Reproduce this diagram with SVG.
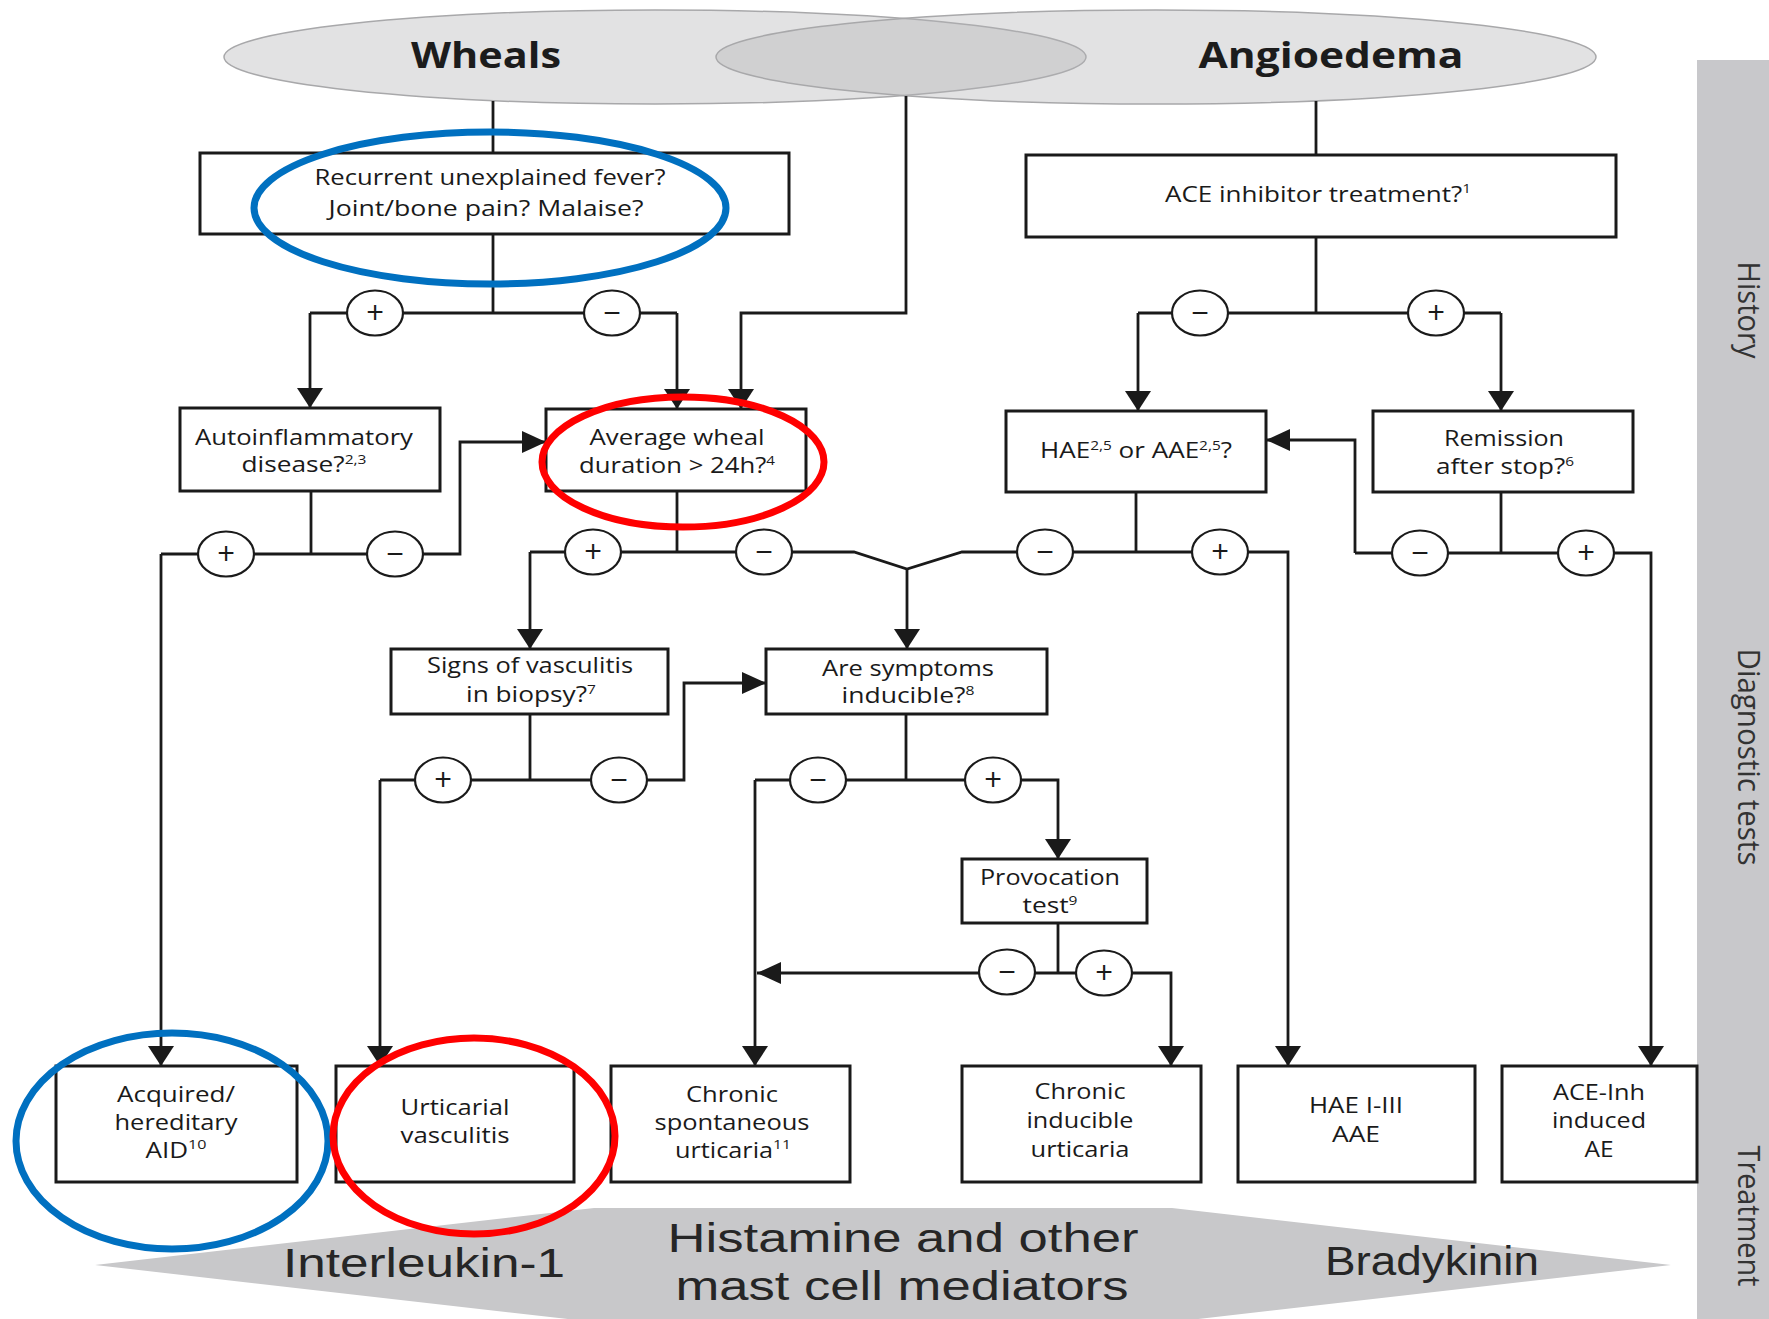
<svg xmlns="http://www.w3.org/2000/svg" width="1769" height="1319" viewBox="0 0 1769 1319">
<defs>
<style>
.box{fill:#fff;stroke:#1a1a1a;stroke-width:3}
.ln{fill:none;stroke:#1a1a1a;stroke-width:2.8}
.arV{marker-end:url(#ahV)}
.arH{marker-end:url(#ahH)}
.sign{fill:#fff;stroke:#1a1a1a;stroke-width:2.2}
.st{font-family:"Open Sans","DejaVu Sans",sans-serif;font-size:31px;fill:#1a1a1a;text-anchor:middle}
.bt{font-family:"Open Sans","Liberation Sans",sans-serif;font-size:22px;fill:#1a1a1a;text-anchor:middle}
.bb{font-family:"Open Sans","Liberation Sans",sans-serif;font-size:21px;fill:#1a1a1a;text-anchor:middle}
.title{font-family:"Open Sans","Liberation Sans",sans-serif;font-weight:700;font-size:35px;fill:#1c1c1c;text-anchor:middle}
.big{font-family:"Liberation Sans",Arial,sans-serif;font-size:41px;fill:#262626;text-anchor:middle}
.band{font-family:"Open Sans","Liberation Sans",sans-serif;font-size:31px;fill:#333;text-anchor:middle}
.sup{font-size:13px}
.gell{fill:#b3b3b6;fill-opacity:0.38;stroke:#a8a8aa;stroke-width:1.5}
.blue{fill:none;stroke:#0070c0;stroke-width:7}
.red{fill:none;stroke:#ff0000;stroke-width:7}
</style>
<marker id="ahV" markerUnits="userSpaceOnUse" markerWidth="20" markerHeight="26" viewBox="0 0 20 26" refX="20" refY="13" orient="auto"><path d="M0,0 L20,13 L0,26 z" fill="#1a1a1a"/></marker>
<marker id="ahH" markerUnits="userSpaceOnUse" markerWidth="24" markerHeight="22" viewBox="0 0 24 22" refX="24" refY="11" orient="auto"><path d="M0,0 L24,11 L0,22 z" fill="#1a1a1a"/></marker>
</defs>
<rect width="1769" height="1319" fill="#fff"/>

<g id="band">
<rect x="1697" y="60" width="72" height="1259" fill="#c8c8cb"/>
<text class="band" transform="translate(1738,310) rotate(90)" textLength="97" lengthAdjust="spacingAndGlyphs">History</text>
<text class="band" transform="translate(1738,757) rotate(90)" textLength="217" lengthAdjust="spacingAndGlyphs">Diagnostic tests</text>
<text class="band" transform="translate(1738,1216) rotate(90)" textLength="141" lengthAdjust="spacingAndGlyphs">Treatment</text>
</g>

<g id="mediators">
<polygon points="95,1265 594,1208 1172,1208 1671,1265 1172,1322 594,1322" fill="#c8c8ca"/>
<text class="big" x="424" y="1277" textLength="282" lengthAdjust="spacingAndGlyphs">Interleukin-1</text>
<text class="big" x="903" y="1252" textLength="471" lengthAdjust="spacingAndGlyphs">Histamine and other</text>
<text class="big" x="902" y="1300" textLength="453" lengthAdjust="spacingAndGlyphs">mast cell mediators</text>
<text class="big" x="1432" y="1275" textLength="214" lengthAdjust="spacingAndGlyphs">Bradykinin</text>
</g>

<g id="n-wheals">
<ellipse class="gell" cx="655" cy="57" rx="431" ry="47"/>
<text class="title" x="486" y="68" textLength="150" lengthAdjust="spacingAndGlyphs">Wheals</text>
</g>
<g id="n-angioedema">
<ellipse class="gell" cx="1156" cy="57" rx="440" ry="47"/>
<text class="title" x="1331" y="68" textLength="265" lengthAdjust="spacingAndGlyphs">Angioedema</text>
</g>

<g id="connectors">
<path class="ln" d="M493,101 V153"/>
<path class="ln" d="M1316,101 V155"/>
<path class="ln" d="M493,234 V313"/>
<path class="ln" d="M310,313 H677"/>
<path class="ln arV" d="M310,313 V408"/>
<path class="ln arV" d="M677,313 V409"/>
<path class="ln arV" d="M906,96 V313 H741 V409"/>
<path class="ln" d="M1316,237 V313"/>
<path class="ln" d="M1138,313 H1501"/>
<path class="ln arV" d="M1138,313 V411"/>
<path class="ln arV" d="M1501,313 V411"/>

<path class="ln" d="M311,491 V554"/>
<path class="ln arH" d="M161,554 H460 V442 H546"/>
<path class="ln arV" d="M161,554 V1066"/>
<path class="ln" d="M677,491 V552"/>
<path class="ln arV" d="M530,552 H854 L907,569 L962,552 H1288 V1066"/>
<path class="ln arV" d="M530,552 V649"/>
<path class="ln arV" d="M907,569 V649"/>
<path class="ln" d="M1136,492 V552"/>
<path class="ln" d="M1501,492 V553"/>
<path class="ln arV" d="M1355,553 H1651 V1066"/>
<path class="ln arH" d="M1355,553 V440 H1266"/>

<path class="ln" d="M530,714 V780"/>
<path class="ln arH" d="M380,780 H684 V683 H766"/>
<path class="ln arV" d="M380,780 V1066"/>
<path class="ln" d="M906,714 V780"/>
<path class="ln arV" d="M755,780 H1058 V859"/>
<path class="ln arV" d="M755,780 V1066"/>
<path class="ln" d="M1058,923 V973"/>
<path class="ln arH" d="M1058,973 H757"/>
<path class="ln arV" d="M1058,973 H1171 V1066"/>

<g id="signs">
<ellipse class="sign" cx="375" cy="313" rx="28" ry="22.5"/><text class="st" x="375" y="324">+</text>
<ellipse class="sign" cx="612" cy="313" rx="28" ry="22.5"/><text class="st" x="612" y="324">−</text>
<ellipse class="sign" cx="1200" cy="313" rx="28" ry="22.5"/><text class="st" x="1200" y="324">−</text>
<ellipse class="sign" cx="1436" cy="313" rx="28" ry="22.5"/><text class="st" x="1436" y="324">+</text>
<ellipse class="sign" cx="226" cy="554" rx="28" ry="22.5"/><text class="st" x="226" y="565">+</text>
<ellipse class="sign" cx="395" cy="554" rx="28" ry="22.5"/><text class="st" x="395" y="565">−</text>
<ellipse class="sign" cx="593" cy="552" rx="28" ry="22.5"/><text class="st" x="593" y="563">+</text>
<ellipse class="sign" cx="764" cy="552" rx="28" ry="22.5"/><text class="st" x="764" y="563">−</text>
<ellipse class="sign" cx="1045" cy="552" rx="28" ry="22.5"/><text class="st" x="1045" y="563">−</text>
<ellipse class="sign" cx="1220" cy="552" rx="28" ry="22.5"/><text class="st" x="1220" y="563">+</text>
<ellipse class="sign" cx="1420" cy="553" rx="28" ry="22.5"/><text class="st" x="1420" y="564">−</text>
<ellipse class="sign" cx="1586" cy="553" rx="28" ry="22.5"/><text class="st" x="1586" y="564">+</text>
<ellipse class="sign" cx="443" cy="780" rx="28" ry="22.5"/><text class="st" x="443" y="791">+</text>
<ellipse class="sign" cx="619" cy="780" rx="28" ry="22.5"/><text class="st" x="619" y="791">−</text>
<ellipse class="sign" cx="818" cy="780" rx="28" ry="22.5"/><text class="st" x="818" y="791">−</text>
<ellipse class="sign" cx="993" cy="780" rx="28" ry="22.5"/><text class="st" x="993" y="791">+</text>
<ellipse class="sign" cx="1007" cy="972" rx="28" ry="22.5"/><text class="st" x="1007" y="983">−</text>
<ellipse class="sign" cx="1104" cy="973" rx="28" ry="22.5"/><text class="st" x="1104" y="984">+</text>
</g>
</g>

<g id="n-fever">
<rect class="box" x="200" y="153" width="589" height="81"/>
<text class="bt" x="490" y="185" textLength="351" lengthAdjust="spacingAndGlyphs">Recurrent unexplained fever?</text>
<text class="bt" x="486" y="216" textLength="315" lengthAdjust="spacingAndGlyphs">Joint/bone pain? Malaise?</text>
</g>
<g id="n-ace">
<rect class="box" x="1026" y="155" width="590" height="82"/>
<text class="bt" x="1318" y="202" textLength="306" lengthAdjust="spacingAndGlyphs">ACE inhibitor treatment?<tspan class="sup" dy="-9">1</tspan></text>
</g>
<g id="n-autoinflammatory">
<rect class="box" x="180" y="408" width="260" height="83"/>
<text class="bt" x="304" y="445" textLength="218" lengthAdjust="spacingAndGlyphs">Autoinflammatory</text>
<text class="bt" x="304" y="472" textLength="125" lengthAdjust="spacingAndGlyphs">disease?<tspan class="sup" dy="-8">2,3</tspan></text>
</g>
<g id="n-wheal-duration">
<rect class="box" x="546" y="409" width="260" height="82"/>
<text class="bt" x="677" y="445" textLength="175" lengthAdjust="spacingAndGlyphs">Average wheal</text>
<text class="bt" x="677" y="473" textLength="196" lengthAdjust="spacingAndGlyphs">duration &gt; 24h?<tspan class="sup" dy="-8">4</tspan></text>
</g>
<g id="n-hae-aae">
<rect class="box" x="1006" y="411" width="260" height="81"/>
<text class="bt" x="1136" y="458" textLength="192" lengthAdjust="spacingAndGlyphs">HAE<tspan class="sup" dy="-8">2,5</tspan><tspan dy="8"> or AAE</tspan><tspan class="sup" dy="-8">2,5</tspan><tspan dy="8">?</tspan></text>
</g>
<g id="n-remission">
<rect class="box" x="1373" y="411" width="260" height="81"/>
<text class="bt" x="1504" y="446" textLength="120" lengthAdjust="spacingAndGlyphs">Remission</text>
<text class="bt" x="1505" y="474" textLength="138" lengthAdjust="spacingAndGlyphs">after stop?<tspan class="sup" dy="-8">6</tspan></text>
</g>
<g id="n-vasculitis-biopsy">
<rect class="box" x="391" y="649" width="277" height="65"/>
<text class="bt" x="530" y="673" textLength="206" lengthAdjust="spacingAndGlyphs">Signs of vasculitis</text>
<text class="bt" x="531" y="702" textLength="130" lengthAdjust="spacingAndGlyphs">in biopsy?<tspan class="sup" dy="-8">7</tspan></text>
</g>
<g id="n-inducible">
<rect class="box" x="766" y="649" width="281" height="65"/>
<text class="bt" x="908" y="676" textLength="172" lengthAdjust="spacingAndGlyphs">Are symptoms</text>
<text class="bt" x="908" y="703" textLength="133" lengthAdjust="spacingAndGlyphs">inducible?<tspan class="sup" dy="-8">8</tspan></text>
</g>
<g id="n-provocation">
<rect class="box" x="962" y="859" width="185" height="64"/>
<text class="bt" x="1050" y="885" textLength="140" lengthAdjust="spacingAndGlyphs">Provocation</text>
<text class="bt" x="1050" y="913" textLength="55" lengthAdjust="spacingAndGlyphs">test<tspan class="sup" dy="-8">9</tspan></text>
</g>

<g id="n-aid">
<rect class="box" x="56" y="1066" width="241" height="116"/>
<text class="bb" x="176" y="1102" textLength="118" lengthAdjust="spacingAndGlyphs">Acquired/</text>
<text class="bb" x="176" y="1130" textLength="123" lengthAdjust="spacingAndGlyphs">hereditary</text>
<text class="bb" x="176" y="1158" textLength="61" lengthAdjust="spacingAndGlyphs">AID<tspan class="sup" dy="-9">10</tspan></text>
</g>
<g id="n-uv">
<rect class="box" x="336" y="1066" width="238" height="116"/>
<text class="bb" x="455" y="1115" textLength="109" lengthAdjust="spacingAndGlyphs">Urticarial</text>
<text class="bb" x="455" y="1143" textLength="109" lengthAdjust="spacingAndGlyphs">vasculitis</text>
</g>
<g id="n-csu">
<rect class="box" x="611" y="1066" width="239" height="116"/>
<text class="bb" x="732" y="1102" textLength="92" lengthAdjust="spacingAndGlyphs">Chronic</text>
<text class="bb" x="732" y="1130" textLength="155" lengthAdjust="spacingAndGlyphs">spontaneous</text>
<text class="bb" x="733" y="1158" textLength="116" lengthAdjust="spacingAndGlyphs">urticaria<tspan class="sup" dy="-9">11</tspan></text>
</g>
<g id="n-cindu">
<rect class="box" x="962" y="1066" width="239" height="116"/>
<text class="bb" x="1080" y="1099" textLength="91" lengthAdjust="spacingAndGlyphs">Chronic</text>
<text class="bb" x="1080" y="1128" textLength="107" lengthAdjust="spacingAndGlyphs">inducible</text>
<text class="bb" x="1080" y="1157" textLength="99" lengthAdjust="spacingAndGlyphs">urticaria</text>
</g>
<g id="n-hae13">
<rect class="box" x="1238" y="1066" width="237" height="116"/>
<text class="bb" x="1356" y="1113" textLength="94" lengthAdjust="spacingAndGlyphs">HAE I-III</text>
<text class="bb" x="1356" y="1142" textLength="48" lengthAdjust="spacingAndGlyphs">AAE</text>
</g>
<g id="n-aceae">
<rect class="box" x="1502" y="1066" width="195" height="116"/>
<text class="bb" x="1599" y="1100" textLength="92" lengthAdjust="spacingAndGlyphs">ACE-Inh</text>
<text class="bb" x="1599" y="1128" textLength="94" lengthAdjust="spacingAndGlyphs">induced</text>
<text class="bb" x="1599" y="1157" textLength="29" lengthAdjust="spacingAndGlyphs">AE</text>
</g>

<g id="annotations">
<ellipse class="blue" cx="490" cy="208" rx="236" ry="76"/>
<ellipse class="red" cx="683" cy="462" rx="141" ry="65"/>
<ellipse class="blue" cx="172" cy="1141" rx="156" ry="108"/>
<ellipse class="red" cx="474" cy="1136" rx="141" ry="98"/>
</g>
</svg>
